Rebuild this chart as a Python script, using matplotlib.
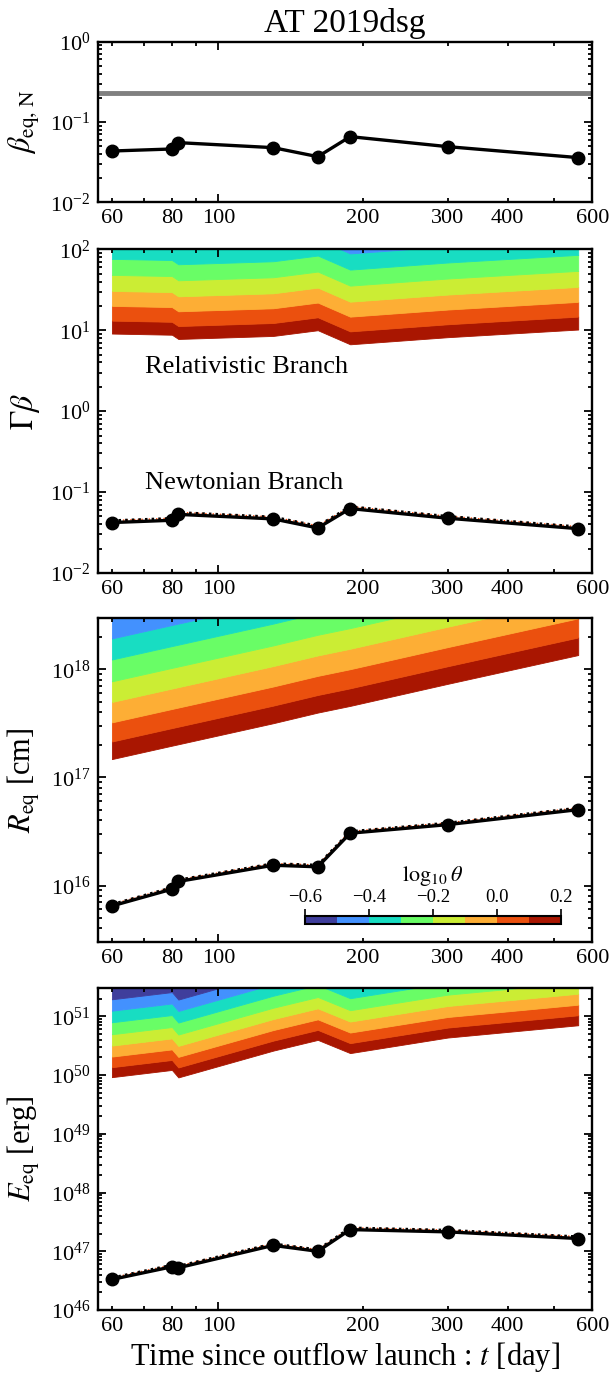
import numpy as np
import matplotlib.pyplot as plt
from matplotlib.ticker import FixedLocator, FixedFormatter, LogLocator, NullFormatter
from matplotlib.colors import ListedColormap, BoundaryNorm
from matplotlib.cm import ScalarMappable

plt.rcParams['font.family'] = ['Liberation Serif', 'DejaVu Serif']
plt.rcParams['mathtext.fontset'] = 'stix'

# epochs (days since launch)
t_day = [60, 80, 82.5, 130, 161, 188, 300, 561]

# Newtonian-branch solutions
beta_N = [0.0435, 0.0461, 0.0553, 0.0479, 0.0370, 0.0657, 0.0493, 0.0360]
beta_max = 0.232
gamma_beta = [0.042, 0.0448, 0.053, 0.0466, 0.036, 0.0625, 0.0475, 0.0353]
gamma_beta_alt = [0.0445, 0.0475, 0.0562, 0.0494, 0.0382, 0.0663, 0.0503, 0.0374]
R_eq = [6.47e15, 9.25e15, 1.09e16, 1.54e16, 1.49e16, 3.05e16, 3.66e16, 5.04e16]
R_eq_alt = [6.70e15, 9.60e15, 1.13e16, 1.60e16, 1.55e16, 3.17e16, 3.80e16, 5.24e16]
E_eq = [3.32e46, 5.45e46, 5.24e46, 1.26e47, 1.00e47, 2.34e47, 2.14e47, 1.65e47]
E_eq_alt = [3.55e46, 5.85e46, 5.62e46, 1.35e47, 1.07e47, 2.52e47, 2.30e47, 1.78e47]

# relativistic branch: log10(theta) contour levels
theta_levels = [-0.6, -0.5, -0.4, -0.3, -0.2, -0.1, 0.0, 0.1, 0.2]
# position of the log10(theta)=0.2 contour at each epoch
edge_gb = [9.1, 8.8, 7.8, 8.5, 10.0, 6.7, 8.2, 10.2]
edge_R = [1.48e17, 1.97e17, 2.03e17, 3.18e17, 3.99e17, 4.60e17, 7.36e17, 1.36e18]
edge_E = [9.2e49, 1.22e50, 9.1e49, 2.60e50, 3.96e50, 2.36e50, 4.34e50, 7.03e50]
# dex above that contour for levels 0.2, 0.1, ..., -0.6
dex_gb = [0, 0.160, 0.342, 0.527, 0.725, 0.923, 1.123, 1.318, 1.508]
dex_R = [0, 0.163, 0.340, 0.529, 0.720, 0.922, 1.117, 1.312, 1.500]
dex_E = [0, 0.170, 0.350, 0.537, 0.730, 0.934, 1.131, 1.325, 1.520]

mids = [(a + b) / 2 for a, b in zip(theta_levels[:-1], theta_levels[1:])]
band_colors = [plt.cm.turbo((m - theta_levels[0]) / (theta_levels[-1] - theta_levels[0])) for m in mids]
cmap = ListedColormap(band_colors)
norm = BoundaryNorm(theta_levels, cmap.N)


def style(ax, ylim):
    ax.set_xscale('log')
    ax.set_yscale('log')
    ax.set_xlim(56, 600)
    ax.set_ylim(*ylim)
    ax.xaxis.set_major_locator(FixedLocator([100]))
    ax.xaxis.set_major_formatter(FixedFormatter(['100']))
    ax.xaxis.set_minor_locator(FixedLocator([60, 70, 80, 90, 200, 300, 400, 500, 600]))
    ax.xaxis.set_minor_formatter(FixedFormatter(['60', '', '80', '', '200', '300', '400', '', '600']))
    ax.yaxis.set_major_locator(LogLocator(base=10, numticks=12))
    ax.yaxis.set_minor_locator(LogLocator(base=10, subs=np.arange(2, 10), numticks=12))
    ax.yaxis.set_minor_formatter(NullFormatter())
    ax.tick_params(which='both', direction='in', top=True, right=True, labelsize=16, width=1.3, pad=5)
    ax.tick_params(which='major', length=5.5)
    ax.tick_params(which='minor', length=3)
    for s in ax.spines.values():
        s.set_linewidth(1.7)
    ax.yaxis.set_label_coords(-0.112, 0.5)


def bands(ax, edge, dex):
    loge = np.log10(edge)
    for k in range(len(dex) - 1):
        lo = 10 ** (loge + dex[k])
        hi = 10 ** (loge + dex[k + 1])
        c = band_colors[-1 - k]
        ax.fill_between(t_day, lo, hi, color=c, lw=0.6, ec=c, zorder=1)


def newtonian(ax, y, y_alt=None):
    if y_alt is not None:
        ax.plot(t_day, y_alt, color='orangered', ls=':', lw=1.0, zorder=3)
        ax.plot(t_day, y_alt, color='k', ls=':', lw=1.8, zorder=3)
    ax.plot(t_day, y, 'k-', marker='o', ms=9, lw=2.4, zorder=4)


fig = plt.figure(figsize=(6.11, 13.79), dpi=100)
L, W = 0.1596, 0.8097
ax1 = fig.add_axes([L, 0.8533, W, 0.1165])
ax2 = fig.add_axes([L, 0.5845, W, 0.2347])
ax3 = fig.add_axes([L, 0.3169, W, 0.2350])
ax4 = fig.add_axes([L, 0.0500, W, 0.2338])

# beta_eq,N
style(ax1, (1e-2, 1e0))
ax1.axhline(beta_max, color='gray', lw=3.5, zorder=2)
newtonian(ax1, beta_N)
ax1.set_ylabel(r'$\beta_{\rm eq,\,N}$', fontsize=22)
ax1.set_title('AT 2019dsg', fontsize=24, pad=7)

# Gamma beta
style(ax2, (1e-2, 1e2))
bands(ax2, edge_gb, dex_gb)
newtonian(ax2, gamma_beta, gamma_beta_alt)
ax2.text(70.2, 3.5, 'Relativistic Branch', fontsize=19, va='center', ha='left')
ax2.text(70.2, 0.129, 'Newtonian Branch', fontsize=19, va='center', ha='left')
ax2.set_ylabel(r'$\Gamma\beta$', fontsize=23)

# R_eq
style(ax3, (3.0e15, 3.0e18))
bands(ax3, edge_R, dex_R)
newtonian(ax3, R_eq, R_eq_alt)
ax3.set_ylabel(r'$R_{\rm eq}$ [cm]', fontsize=22)

# E_eq
style(ax4, (1e46, 3.07e51))
bands(ax4, edge_E, dex_E)
newtonian(ax4, E_eq, E_eq_alt)
ax4.set_ylabel(r'$E_{\rm eq}$ [erg]', fontsize=22)
ax4.set_xlabel(r'Time since outflow launch : $t$ [day]', fontsize=22, labelpad=3)

# colorbar for log10(theta)
cax = fig.add_axes([0.4992, 0.3299, 0.419, 0.0058])
sm = ScalarMappable(norm=norm, cmap=cmap)
cb = fig.colorbar(sm, cax=cax, orientation='horizontal', ticks=[-0.6, -0.4, -0.2, 0.0, 0.2])
cax.xaxis.set_ticks_position('top')
cax.xaxis.set_label_position('top')
cax.xaxis.set_major_formatter(FixedFormatter(['\u22120.6', '\u22120.4', '\u22120.2', '0.0', '0.2']))
cax.minorticks_off()
cax.tick_params(direction='out', length=5, width=1.2, labelsize=13.5, pad=2)
cb.outline.set_linewidth(1.5)
cb.set_label(r'$\log_{10}\theta$', fontsize=16, labelpad=6)

fig.savefig('out.png', dpi=100)
